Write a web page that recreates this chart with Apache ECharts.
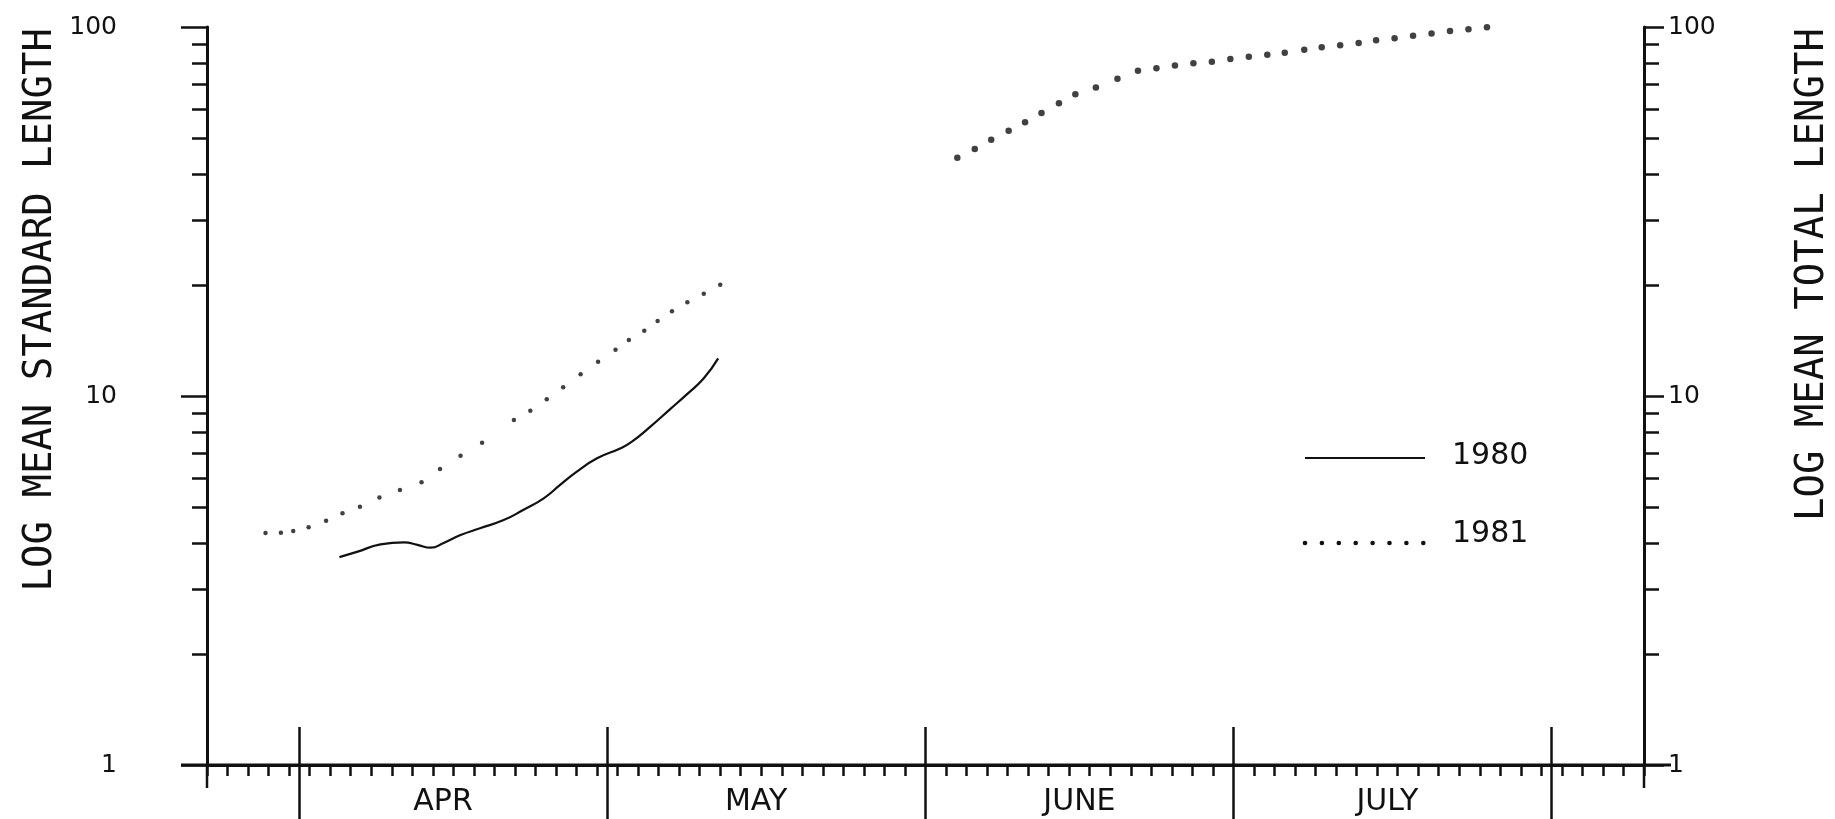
<!DOCTYPE html>
<html>
<head>
<meta charset="utf-8">
<script src="https://cdn.jsdelivr.net/npm/echarts@6/dist/echarts.min.js"></script>
<style>
  html, body { margin: 0; padding: 0; background: #fff; }
  #chart { width: 1835px; height: 819px; }
</style>
</head>
<body>
<div id="chart"></div>
<script>
// x = day of year, y = mean length (log scale)
const days1980 = [94.9, 96.6, 98.9, 101.2, 102.5, 103.8, 105.0, 106.7, 108.6, 110.9, 112.8,
  114.8, 116.4, 118.0, 120.0, 122.3, 123.4, 125.2, 127.1, 128.8, 130.4, 131.8]
const len1980 = [3.66, 3.78, 3.96, 4.01, 3.95, 3.88, 3.99, 4.20, 4.38, 4.61, 4.91,
  5.28, 5.74, 6.23, 6.78, 7.22, 7.52, 8.26, 9.20, 10.13, 11.17, 12.65]

const days1981 = [87.7, 89.2, 90.4, 91.9, 93.6, 95.2, 96.9, 98.8, 100.8, 102.9, 104.7, 106.7, 108.8,
  111.9, 113.5, 115.1, 116.7, 118.4, 120.1, 121.8, 123.1, 124.6, 125.9, 127.3, 128.8, 130.4, 132.0,
  155.1, 156.8, 158.4, 160.1, 161.7, 163.3, 165.0, 166.6, 168.6, 170.7, 172.7, 174.5, 176.3, 178.1,
  179.9, 181.7, 183.5, 185.3, 187.0, 188.9, 190.6, 192.4, 194.2, 195.9, 197.7, 199.5, 201.3, 203.1,
  204.9, 206.7]
const len1981 = [4.25, 4.26, 4.31, 4.41, 4.59, 4.81, 5.01, 5.31, 5.56, 5.84, 6.34, 6.89, 7.47,
  8.61, 9.12, 9.80, 10.56, 11.45, 12.39, 13.35, 14.18, 15.03, 15.97, 16.96, 17.94, 18.93, 20.03,
  44.2, 46.7, 49.5, 52.3, 55.2, 58.5, 62.1, 65.7, 68.6, 72.4, 76.1, 77.3, 78.6, 79.7,
  80.5, 81.9, 83.1, 84.1, 85.2, 86.8, 88.1, 89.2, 90.5, 92.0, 93.2, 94.7, 96.1, 97.5,
  98.6, 99.8]

const monthStarts = [91, 121, 152, 182, 213]
const monthNames = ['APR', 'MAY', 'JUNE', 'JULY']
const monthLabelDays = [105, 135.5, 167, 197]
const minorTicks = [2, 3, 4, 5, 6, 7, 8, 9, 20, 30, 40, 50, 60, 70, 80, 90]

const INK = '#111'
const FONT = 'DejaVu Sans'
const MONO = 'DejaVu Sans Mono'
const G = { left: 207, top: 27, width: 1437, height: 738 }
const gRight = G.left + G.width
const gBottom = G.top + G.height

const chart = echarts.init(document.getElementById('chart'))

function xAxisBase() {
  return {
    type: 'value',
    min: 82,
    max: 222,
    position: 'bottom',
    splitLine: { show: false },
    axisLine: { show: false },
    axisLabel: { show: false },
    axisTick: { show: false }
  }
}

function yAxisBase(pos) {
  return {
    type: 'log',
    logBase: 10,
    min: 1,
    max: 100,
    position: pos,
    splitLine: { show: false },
    axisLine: { show: false },
    axisLabel: { show: false },
    axisTick: { show: false }
  }
}

const tickLine = { color: INK, width: 2.5 }
const yLabel = { show: true, color: INK, fontFamily: FONT, fontSize: 25 }

chart.setOption({
  animation: false,
  backgroundColor: '#fff',
  grid: { left: G.left, top: G.top, width: G.width, height: G.height, containLabel: false },
  xAxis: [
    Object.assign(xAxisBase(), {
      interval: 2,
      axisLine: { show: true, onZero: false, lineStyle: { color: INK, width: 3 } },
      axisTick: { show: true, length: 11, lineStyle: tickLine }
    }),
    Object.assign(xAxisBase(), {
      axisTick: { show: true, inside: true, length: 38, customValues: monthStarts, lineStyle: tickLine },
      axisLabel: {
        show: true,
        customValues: monthLabelDays,
        margin: 22,
        color: INK,
        fontFamily: FONT,
        fontSize: 30,
        formatter: v => monthNames[monthLabelDays.indexOf(v)]
      }
    }),
    Object.assign(xAxisBase(), {
      axisTick: { show: true, length: 54, customValues: monthStarts, lineStyle: tickLine }
    })
  ],
  yAxis: [
    Object.assign(yAxisBase('left'), {
      axisLine: { show: true, onZero: false, lineStyle: { color: INK, width: 3 } },
      axisTick: { show: true, length: 15, customValues: minorTicks, lineStyle: tickLine },
      axisLabel: Object.assign({ margin: 90 }, yLabel)
    }),
    Object.assign(yAxisBase('left'), {
      axisTick: { show: true, length: 26, lineStyle: tickLine }
    }),
    Object.assign(yAxisBase('right'), {
      axisLine: { show: true, onZero: false, lineStyle: { color: INK, width: 3 } },
      axisTick: { show: true, length: 15, customValues: minorTicks, lineStyle: tickLine },
      axisLabel: Object.assign({ margin: 24 }, yLabel)
    }),
    Object.assign(yAxisBase('right'), {
      axisTick: { show: true, length: 20, lineStyle: tickLine }
    })
  ],
  series: [
    {
      name: '1980',
      type: 'line',
      data: days1980.map((d, i) => [d, len1980[i]]),
      showSymbol: false,
      smooth: true,
      lineStyle: { color: INK, width: 2.2 },
      xAxisIndex: 0,
      yAxisIndex: 0
    },
    {
      name: '1981',
      type: 'scatter',
      data: days1981.map((d, i) => [d, len1981[i]]),
      // the June-July dots are heavier on the original plot
      symbolSize: v => (v[0] > 140 ? 6.5 : 4.5),
      itemStyle: { color: INK },
      xAxisIndex: 0,
      yAxisIndex: 2
    }
  ],
  graphic: [
    // axis line stubs that run past the frame corners
    { type: 'line', shape: { x1: 181, y1: gBottom, x2: 1671, y2: gBottom }, style: { stroke: INK, lineWidth: 3 } },
    { type: 'line', shape: { x1: G.left, y1: gBottom, x2: G.left, y2: gBottom + 23 }, style: { stroke: INK, lineWidth: 2.5 } },
    { type: 'line', shape: { x1: gRight, y1: gBottom, x2: gRight, y2: gBottom + 23 }, style: { stroke: INK, lineWidth: 2.5 } },
    // axis titles
    {
      type: 'text', x: 41, y: 28, rotation: Math.PI / 2,
      style: { text: 'LOG MEAN STANDARD LENGTH', font: '39px ' + MONO, fill: INK, align: 'right', verticalAlign: 'middle' }
    },
    {
      type: 'text', x: 1813, y: 28, rotation: Math.PI / 2,
      style: { text: 'LOG MEAN TOTAL LENGTH', font: '39px ' + MONO, fill: INK, align: 'right', verticalAlign: 'middle' }
    },
    // legend
    { type: 'line', shape: { x1: 1305, y1: 458, x2: 1425, y2: 458 }, style: { stroke: INK, lineWidth: 2 } },
    { type: 'text', x: 1452, y: 456, style: { text: '1980', font: '30px ' + FONT, fill: INK, verticalAlign: 'middle' } },
    {
      type: 'group',
      children: [0, 1, 2, 3, 4, 5, 6, 7].map(i => ({
        type: 'circle', shape: { cx: 1305 + i * 16.9, cy: 543, r: 2.3 }, style: { fill: INK }
      }))
    },
    { type: 'text', x: 1452, y: 534, style: { text: '1981', font: '30px ' + FONT, fill: INK, verticalAlign: 'middle' } }
  ]
})
</script>
</body>
</html>
